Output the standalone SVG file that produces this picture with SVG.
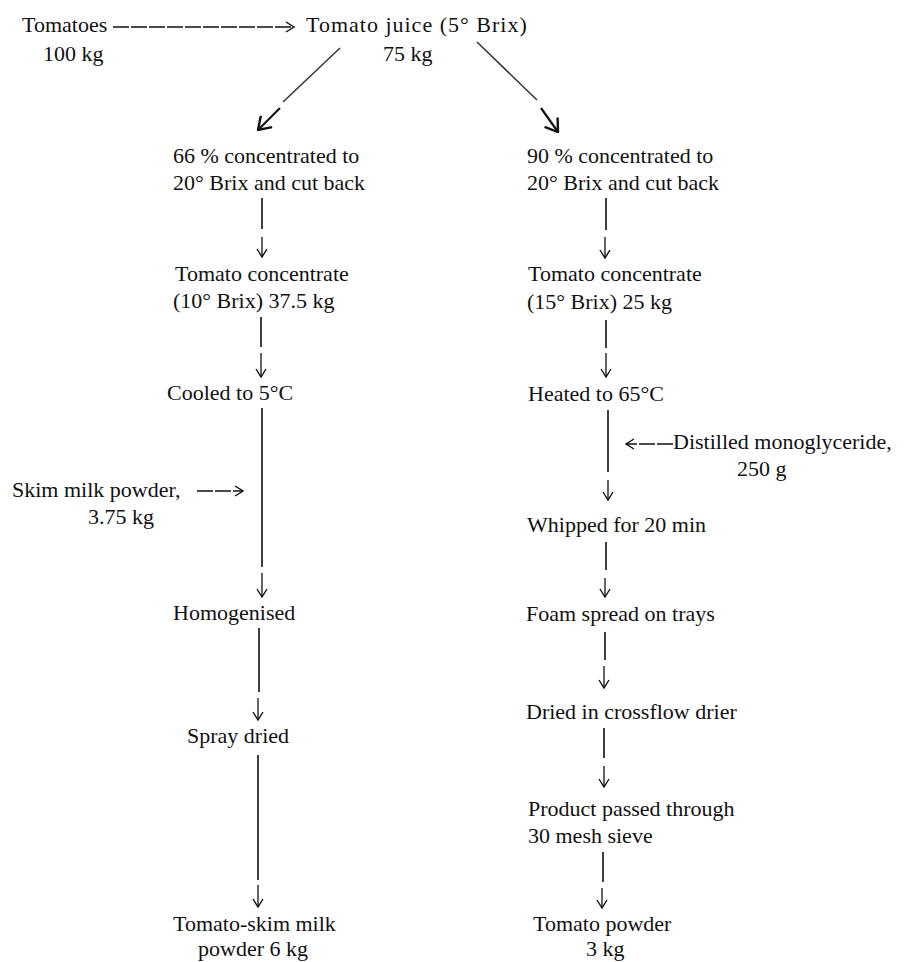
<svg xmlns="http://www.w3.org/2000/svg" width="913" height="962" viewBox="0 0 913 962">
<defs>
<style>
text{font-family:"Liberation Serif","Times New Roman",serif;font-size:22px;fill:#111}
.ln{stroke:#111;stroke-width:1.6;fill:none}
.ar{stroke:#111;stroke-width:1.3;fill:none;marker-end:url(#ah)}
.dg{stroke:#333;stroke-width:1.5;fill:none}
.dga{stroke:#111;stroke-width:2.2;fill:none;marker-end:url(#ahb)}
.hz{stroke:#111;stroke-width:1.3;fill:none;stroke-dasharray:16 2;marker-end:url(#ah)}
</style>
<marker id="ah" markerUnits="userSpaceOnUse" viewBox="0 0 10 12" refX="9" refY="6" markerWidth="10" markerHeight="12" orient="auto">
<path d="M1,1 L9,6 L1,11" fill="none" stroke="#111" stroke-width="1.4"/>
</marker>
<marker id="ahb" markerUnits="userSpaceOnUse" viewBox="0 0 14 18" refX="13" refY="9" markerWidth="14" markerHeight="18" orient="auto">
<path d="M1,1 L13,9 L1,17" fill="none" stroke="#111" stroke-width="2.4"/>
</marker>
</defs>

<g id="connectors">
<line class="hz" x1="113" y1="27" x2="294" y2="27"/>
<line class="dg" x1="340" y1="48" x2="283" y2="102"/>
<line class="dga" x1="280" y1="108" x2="258" y2="130"/>
<line class="dg" x1="477" y1="42" x2="537" y2="100"/>
<line class="dga" x1="541" y1="108" x2="558" y2="132"/>
<!-- left column -->
<line class="ln" x1="262" y1="198" x2="262" y2="229"/>
<line class="ar" x1="262" y1="237" x2="262" y2="257"/>
<line class="ln" x1="261" y1="317" x2="261" y2="347"/>
<line class="ar" x1="261" y1="353" x2="261" y2="377"/>
<line class="ln" x1="262" y1="408" x2="262" y2="567"/>
<line class="hz" x1="197" y1="491" x2="243" y2="491"/>
<line class="ar" x1="262" y1="573" x2="262" y2="597"/>
<line class="ln" x1="259" y1="628" x2="259" y2="692"/>
<line class="ar" x1="258" y1="698" x2="258" y2="720"/>
<line class="ln" x1="258" y1="755" x2="258" y2="880"/>
<line class="ar" x1="258" y1="885" x2="258" y2="907"/>
<!-- right column -->
<line class="ln" x1="606" y1="198" x2="606" y2="230"/>
<line class="ar" x1="605" y1="237" x2="605" y2="258"/>
<line class="ln" x1="606" y1="320" x2="606" y2="348"/>
<line class="ar" x1="606" y1="353" x2="606" y2="377"/>
<line class="ln" x1="608" y1="410" x2="608" y2="472"/>
<line class="hz" x1="673" y1="444" x2="626" y2="444"/>
<line class="ar" x1="608" y1="480" x2="608" y2="500"/>
<line class="ln" x1="606" y1="542" x2="606" y2="570"/>
<line class="ar" x1="605" y1="578" x2="605" y2="597"/>
<line class="ln" x1="605" y1="632" x2="605" y2="660"/>
<line class="ar" x1="604" y1="666" x2="604" y2="688"/>
<line class="ln" x1="604" y1="728" x2="604" y2="758"/>
<line class="ar" x1="604" y1="766" x2="604" y2="787"/>
<line class="ln" x1="603" y1="852" x2="603" y2="882"/>
<line class="ar" x1="602" y1="888" x2="602" y2="908"/>
</g>

<g id="tomatoes"><text x="22" y="32">Tomatoes</text><text x="43" y="61">100 kg</text></g>
<g id="juice"><text x="306" y="32" letter-spacing="1">Tomato juice (5° Brix)</text><text x="383" y="61">75 kg</text></g>

<g id="l-conc"><text x="173" y="163">66 % concentrated to</text><text x="173" y="190">20° Brix and cut back</text></g>
<g id="l-tc"><text x="175" y="281">Tomato concentrate</text><text x="173" y="308">(10° Brix) 37.5 kg</text></g>
<g id="l-cool"><text x="167" y="400">Cooled to 5°C</text></g>
<g id="l-skim"><text x="12" y="497">Skim milk powder,</text><text x="88" y="524">3.75 kg</text></g>
<g id="l-homog"><text x="173" y="620">Homogenised</text></g>
<g id="l-spray"><text x="187" y="743">Spray dried</text></g>
<g id="l-prod"><text x="173" y="931">Tomato-skim milk</text><text x="198" y="956">powder 6 kg</text></g>

<g id="r-conc"><text x="527" y="163">90 % concentrated to</text><text x="527" y="190">20° Brix and cut back</text></g>
<g id="r-tc"><text x="528" y="281">Tomato concentrate</text><text x="527" y="309">(15° Brix) 25 kg</text></g>
<g id="r-heat"><text x="528" y="401">Heated to 65°C</text></g>
<g id="r-mono"><text x="673" y="449">Distilled monoglyceride,</text><text x="737" y="476">250 g</text></g>
<g id="r-whip"><text x="527" y="532">Whipped for 20 min</text></g>
<g id="r-foam"><text x="526" y="621">Foam spread on trays</text></g>
<g id="r-dry"><text x="526" y="719">Dried in crossflow drier</text></g>
<g id="r-sieve"><text x="528" y="816">Product passed through</text><text x="528" y="843">30 mesh sieve</text></g>
<g id="r-powder"><text x="533" y="931">Tomato powder</text><text x="586" y="956">3 kg</text></g>
</svg>
